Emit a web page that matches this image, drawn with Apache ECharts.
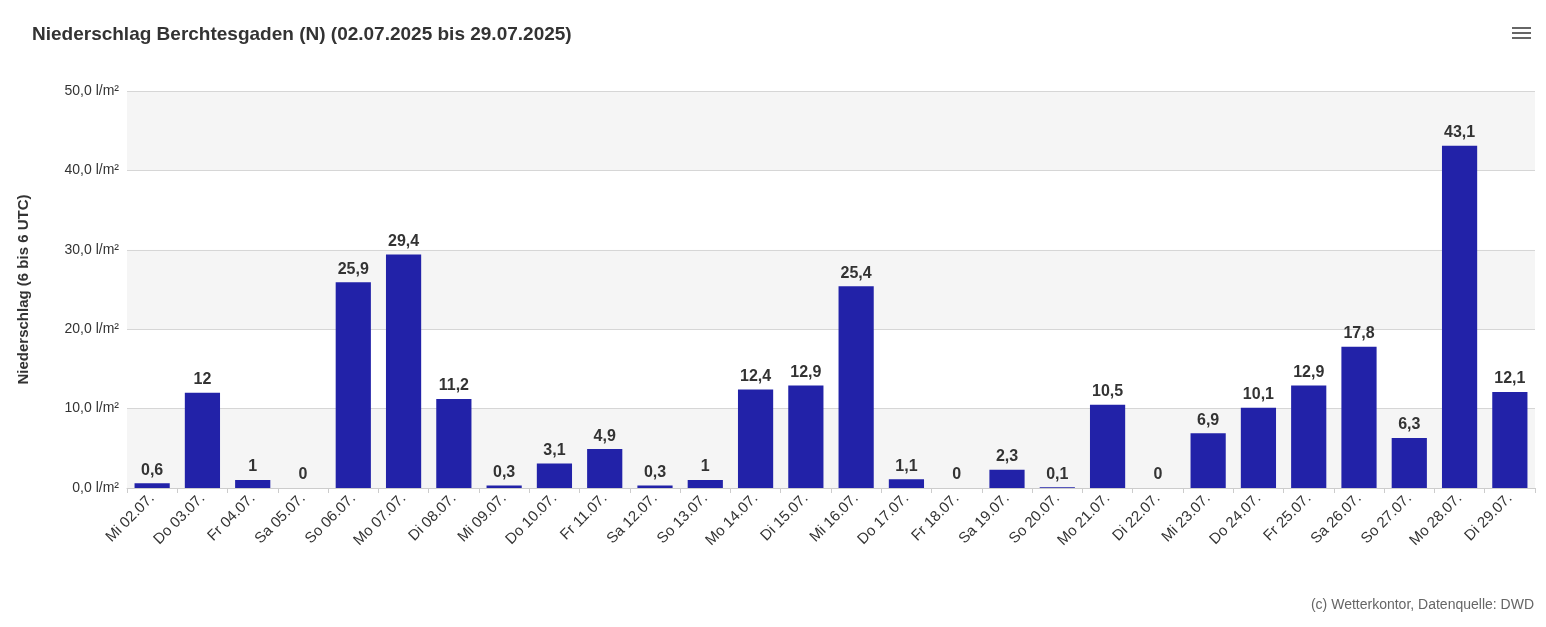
<!DOCTYPE html>
<html><head><meta charset="utf-8">
<script src="https://cdn.jsdelivr.net/npm/echarts@6/dist/echarts.min.js"></script>
<style>html,body{margin:0;padding:0;background:#fff}#c{width:1546px;height:627px}</style>
</head><body><div id="c"></div>
<script>
const categories = ["Mi 02.07.","Do 03.07.","Fr 04.07.","Sa 05.07.","So 06.07.","Mo 07.07.","Di 08.07.","Mi 09.07.","Do 10.07.","Fr 11.07.","Sa 12.07.","So 13.07.","Mo 14.07.","Di 15.07.","Mi 16.07.","Do 17.07.","Fr 18.07.","Sa 19.07.","So 20.07.","Mo 21.07.","Di 22.07.","Mi 23.07.","Do 24.07.","Fr 25.07.","Sa 26.07.","So 27.07.","Mo 28.07.","Di 29.07."];
const values = [0.6,12,1,0,25.9,29.4,11.2,0.3,3.1,4.9,0.3,1,12.4,12.9,25.4,1.1,0,2.3,0.1,10.5,0,6.9,10.1,12.9,17.8,6.3,43.1,12.1];
const fmt = v => (Math.round(v*10)/10).toString().replace('.', ',');
const chart = echarts.init(document.getElementById('c'));
chart.setOption({
  animation:false,
  textStyle:{fontFamily:'Arial, Liberation Sans, sans-serif'},
  title:{text:'Niederschlag Berchtesgaden (N) (02.07.2025 bis 29.07.2025)',left:27,top:20,
    textStyle:{fontSize:19,fontWeight:'bold',color:'#333'}},
  graphic:[
    {type:'text',right:12,top:598,style:{text:'(c) Wetterkontor, Datenquelle: DWD',fill:'#666',font:'14px Arial, Liberation Sans, sans-serif'}},
    {type:'group',left:1512,top:27,children:[
      {type:'rect',shape:{x:0,y:0,width:19,height:2},style:{fill:'#666'}},
      {type:'rect',shape:{x:0,y:5,width:19,height:2},style:{fill:'#666'}},
      {type:'rect',shape:{x:0,y:10,width:19,height:2},style:{fill:'#666'}}]}
  ],
  grid:{left:127,right:11,top:91,bottom:139},
  xAxis:{type:'category',data:categories,
    axisLine:{lineStyle:{color:'#ccc'}},axisTick:{show:true,lineStyle:{color:'#ccc'}},
    axisLabel:{rotate:45,color:'#333',fontSize:15,interval:0,margin:8}},
  yAxis:{type:'value',min:0,max:50,interval:10,
    name:'Niederschlag (6 bis 6 UTC)',nameLocation:'middle',nameGap:96,nameRotate:90,
    nameTextStyle:{fontSize:15,fontWeight:'bold',color:'#333'},
    axisLabel:{formatter:v=>v.toFixed(1).replace('.',',')+' l/m²',color:'#333',fontSize:14},
    splitLine:{lineStyle:{color:'#d6d6d6'}},
    splitArea:{show:true,areaStyle:{color:['#f5f5f5','#ffffff']}}},
  series:[{type:'bar',data:values,barWidth:'70%',
    itemStyle:{color:'#2222a8'},
    label:{show:true,position:'top',formatter:p=>fmt(p.value),fontSize:16,fontWeight:'bold',color:'#333'}}]
});
</script></body></html>
